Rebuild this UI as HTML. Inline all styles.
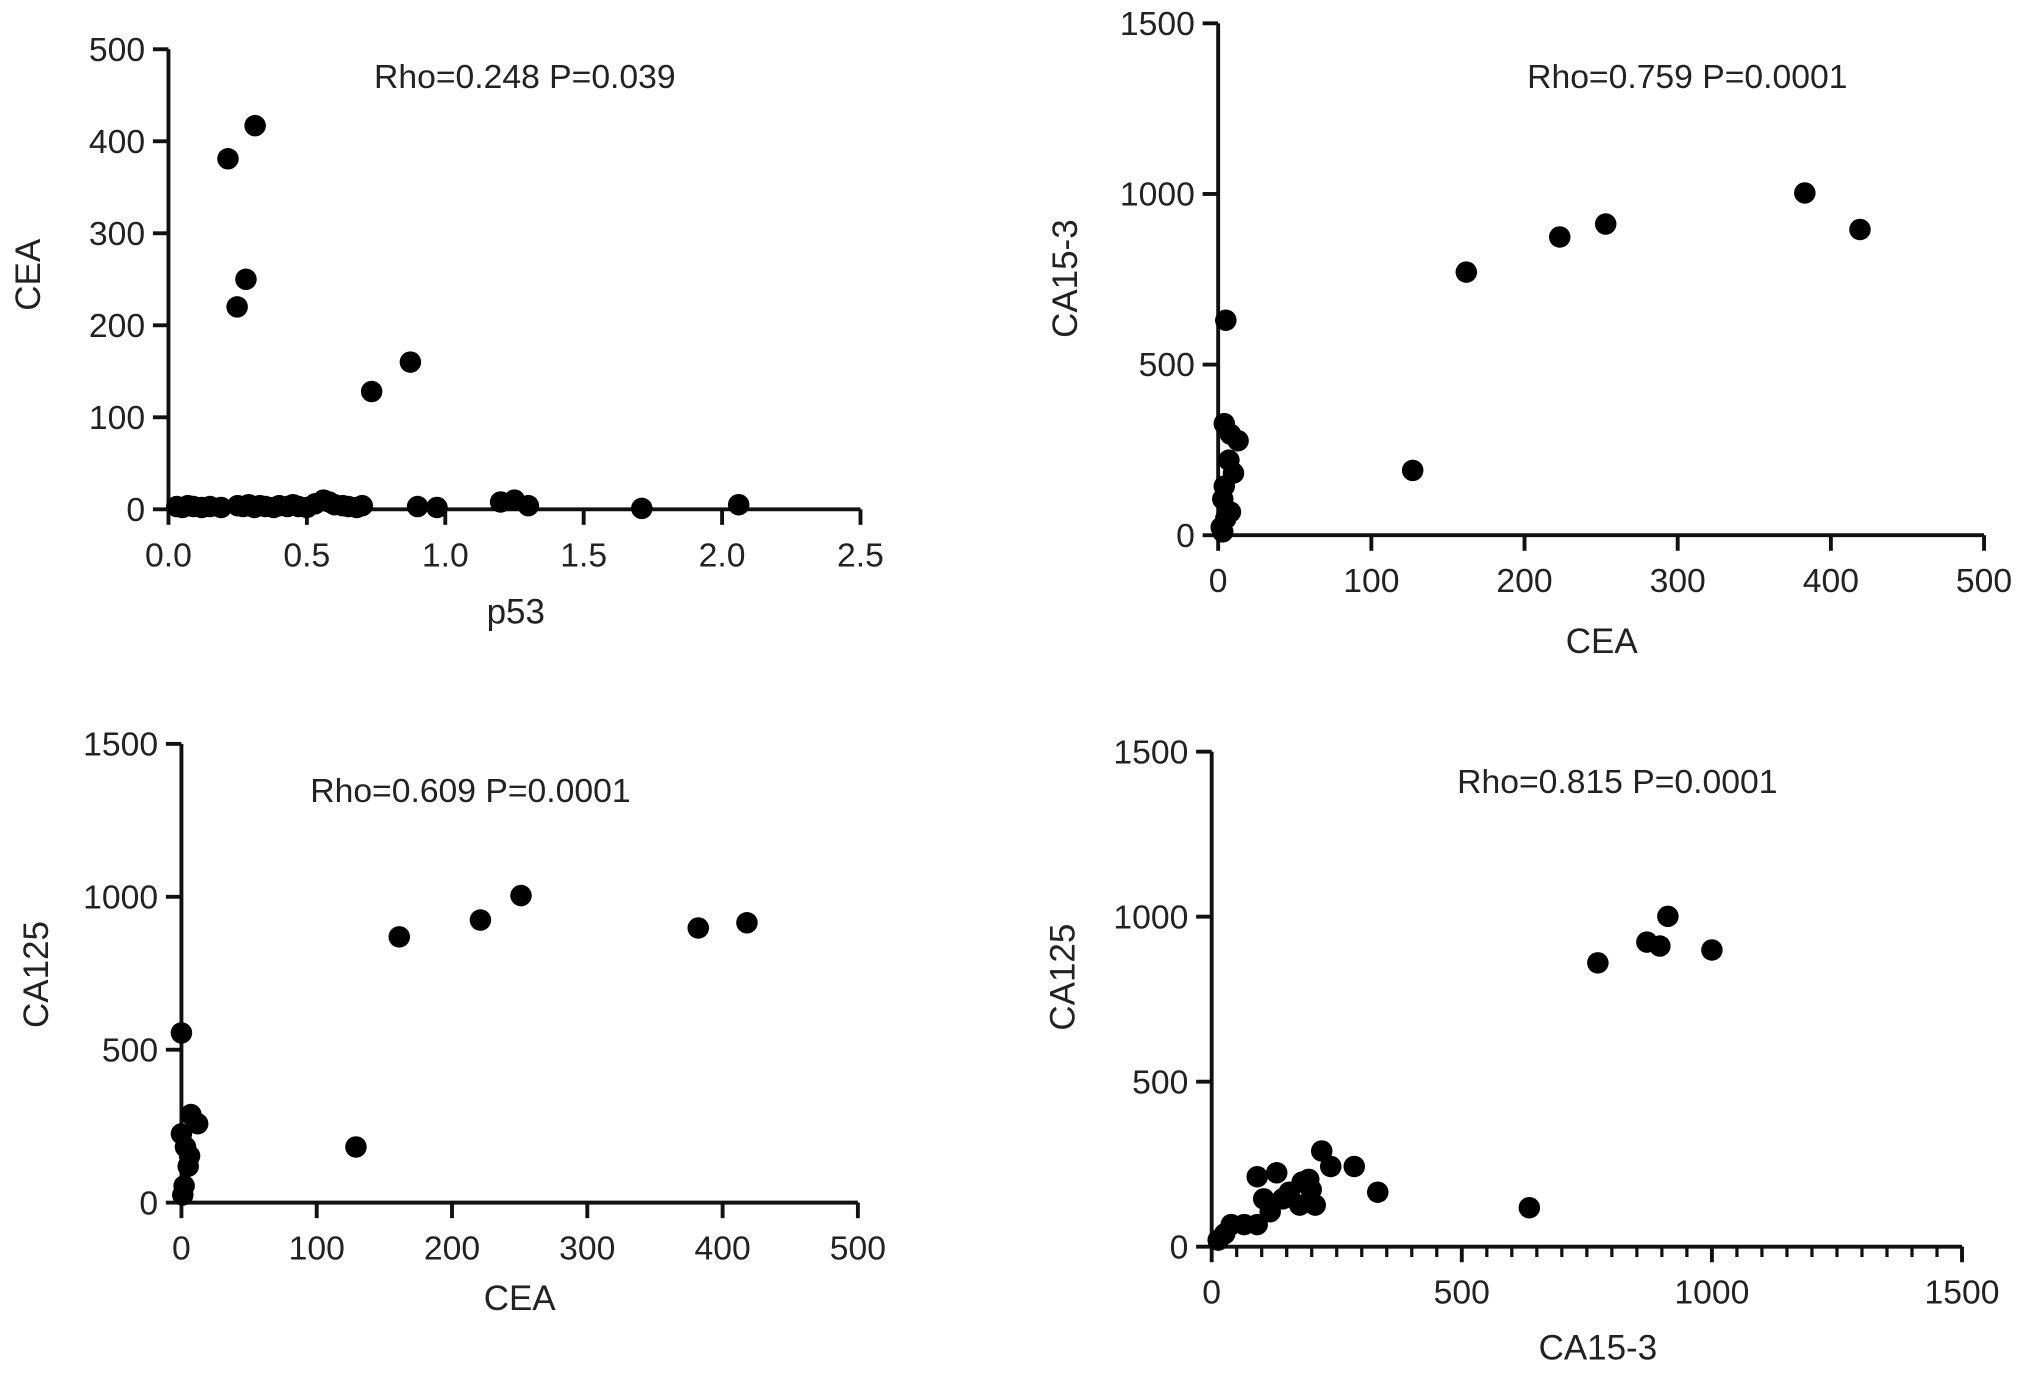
<!DOCTYPE html>
<html><head><meta charset="utf-8"><style>
html,body{margin:0;padding:0;background:#fff}
svg{display:block}
text{font-family:"Liberation Sans",sans-serif;fill:#222}
</style></head><body>
<svg id="fig" width="2032" height="1375" viewBox="0 0 1568 1061" xmlns="http://www.w3.org/2000/svg"></svg>
<script>
// Panel A: p53 vs CEA
const aX=[0.215,0.313,0.28,0.248,0.734,0.874,0.03,0.05,0.07,0.09,0.12,0.15,0.19,0.25,0.27,0.29,0.31,0.33,0.35,0.38,0.4,0.43,0.45,0.47,0.5,0.53,0.56,0.58,0.6,0.63,0.65,0.68,0.7,0.9,0.97,1.2,1.25,1.3,1.71,2.06];
const aY=[381,417,250,220,128,160,3,2,4,3,2,3,2,4,3,5,2,4,3,2,4,3,5,3,2,6,10,8,5,4,3,2,4,3,2,8,10,4,1,5];
// Panel B: CEA vs CA15-3
const bX=[5,127,162,223,253,383,419,4,8,13,7,4,3,5,2,8,10,3];
const bY=[630,190,771,874,912,1003,896,327,296,277,220,144,106,49,23,68,182,10];
// Panel C: CEA vs CA125
const cX=[0,129,161,221,251,382,418,0,7,12,3,5,2,1,6];
const cY=[555,182,869,924,1004,898,915,225,288,258,182,119,55,25,153];
// Panel D: CA15-3 vs CA125
const dX=[772,870,896,912,1000,635,332,285,238,220,91,130,155,181,199,207,117,142,104,91,65,39,26,13,176,194];
const dY=[860,923,911,1001,899,118,165,243,243,290,212,224,165,196,173,126,106,145,145,67,67,67,39,20,126,204];
const aTicksX=["0.0","0.5","1.0","1.5","2.0","2.5"], aTicksY=["0","100","200","300","400","500"];
const bTicksX=["0","100","200","300","400","500"], bTicksY=["0","500","1000","1500"];
const cTicksX=["0","100","200","300","400","500"], cTicksY=["0","500","1000","1500"];
const dTicksX=["0","500","1000","1500"], dTicksY=["0","500","1000","1500"];

const svg=document.getElementById('fig');
const NS="http://www.w3.org/2000/svg";
function mk(tag,attrs,parent){const e=document.createElementNS(NS,tag);for(const k in attrs)e.setAttribute(k,attrs[k]);parent.appendChild(e);return e;}
function panel(p){
  const g=mk('g',{},svg);
  
  
  const xmin=+p.tx[0], xmax=+p.tx[p.tx.length-1], ymin=+p.ty[0], ymax=+p.ty[p.ty.length-1];
  const sx=v=>p.x0+(v-xmin)/(xmax-xmin)*(p.x1-p.x0);
  const sy=v=>p.y0-(v-ymin)/(ymax-ymin)*(p.y0-p.y1);
  const ax=mk('line',{x1:p.x0,y1:p.y0+1.5,x2:p.x0,y2:p.y1,stroke:'#111','stroke-width':3},g);
  
  const axx=mk('line',{x1:p.x0-1.5,y1:p.y0,x2:p.x1,y2:p.y0,stroke:'#111','stroke-width':3},g);
  
  if(p.minor){for(let v=xmin;v<=xmax;v+=p.minor){mk('line',{x1:sx(v),y1:p.y0,x2:sx(v),y2:p.y0+8,stroke:'#111','stroke-width':2.5},g);}}
  p.tx.forEach(t=>{const x=sx(+t);mk('line',{x1:x,y1:p.y0,x2:x,y2:p.y0+12,stroke:'#111','stroke-width':3},g);
    const tt=mk('text',{x:x,y:p.y0+44,'text-anchor':'middle','font-size':26},g);tt.textContent=t;
    });
  p.ty.forEach(t=>{const y=sy(+t);mk('line',{x1:p.x0-12,y1:y,x2:p.x0,y2:y,stroke:'#111','stroke-width':3},g);
    const tt=mk('text',{x:p.x0-18,y:y+9,'text-anchor':'end','font-size':26},g);tt.textContent=t;
    });
  p.xs.forEach((v,i)=>{const c=mk('circle',{cx:sx(v),cy:sy(p.ys[i]),r:8.3,fill:'#000'},g);
    });
  const ti=mk('text',{x:p.tpos[0],y:p.tpos[1],'text-anchor':'middle','font-size':26},g);ti.textContent=p.title;
  
  const xl=mk('text',{x:p.xl[0],y:p.xl[1],'text-anchor':'middle','font-size':27},g);xl.textContent=p.xlab;
  
  const yl=mk('text',{x:0,y:0,'text-anchor':'middle','font-size':27,transform:`translate(${p.yl[0]},${p.yl[1]}) rotate(-90)`},g);yl.textContent=p.ylab;
  
}
panel({name:'panel-p53-cea',x0:130,x1:664,y0:393,y1:38,tx:aTicksX,ty:aTicksY,xs:aX,ys:aY,title:'Rho=0.248 P=0.039',tpos:[405,68],xlab:'p53',xl:[398,481],ylab:'CEA',yl:[31,212]});
panel({name:'panel-cea-ca153',x0:940,x1:1531,y0:413,y1:18,tx:bTicksX,ty:bTicksY,xs:bX,ys:bY,title:'Rho=0.759 P=0.0001',tpos:[1302,68],xlab:'CEA',xl:[1236,504],ylab:'CA15-3',yl:[831,215]});
panel({name:'panel-cea-ca125',x0:140,x1:662,y0:928,y1:574,tx:cTicksX,ty:cTicksY,xs:cX,ys:cY,title:'Rho=0.609 P=0.0001',tpos:[363,619],xlab:'CEA',xl:[401,1011],ylab:'CA125',yl:[37,752]});
panel({name:'panel-ca153-ca125',x0:935,x1:1514,y0:962,y1:580,tx:dTicksX,ty:dTicksY,xs:dX,ys:dY,minor:50,title:'Rho=0.815 P=0.0001',tpos:[1248,612],xlab:'CA15-3',xl:[1233,1049],ylab:'CA125',yl:[829,754]});
</script>
</body></html>
